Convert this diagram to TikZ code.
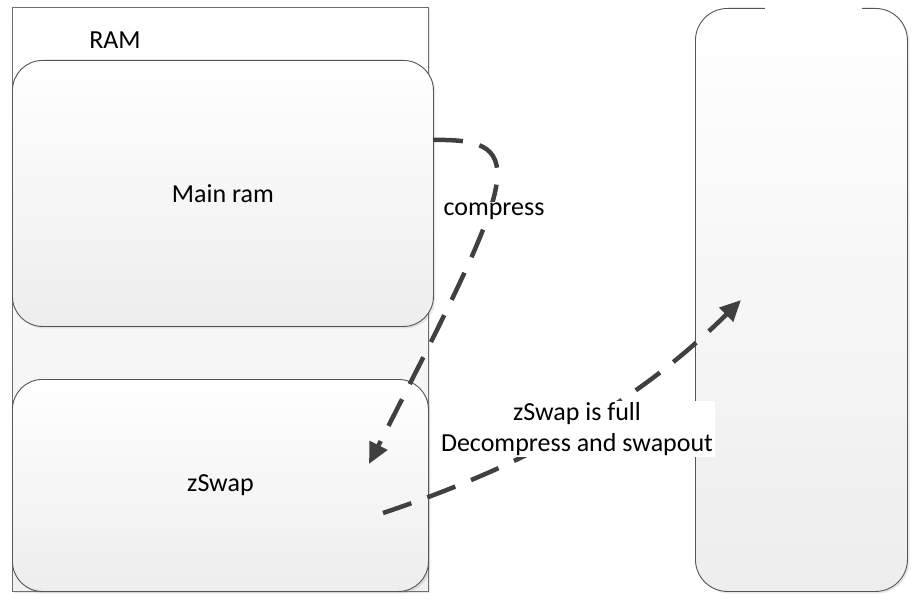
\documentclass[tikz,border=0pt]{standalone}
\usepackage{fontspec}
\setmainfont{Carlito}
\usetikzlibrary{arrows.meta,shadows}
\definecolor{edgec}{HTML}{555555}
\definecolor{arrowc}{HTML}{404040}
\begin{document}
\begin{tikzpicture}[x=1pt,y=-1pt,
  box/.style={draw=edgec, line width=0.9pt, rounded corners=30pt, top color=white, bottom color=black!7,
    drop shadow={shadow xshift=2pt,shadow yshift=-2pt,opacity=0.18}, anchor=north west, inner sep=0pt,
    font=\fontsize{26}{31}\selectfont},
  outerbox/.style={draw=edgec!85, line width=0.9pt, top color=white, bottom color=black!6,
    drop shadow={shadow xshift=2pt,shadow yshift=-2pt,opacity=0.18}, anchor=north west, inner sep=0pt},
  flow/.style={draw=arrowc, line width=4.5pt, dash pattern=on 30pt off 17pt,
    -{Triangle[length=21pt,width=19pt,sep=0pt]}},
  lbl/.style={font=\fontsize{26}{31}\selectfont, text=black, inner xsep=2pt, inner ysep=1pt, align=center},
]
\useasboundingbox (0,0) rectangle (921,599);
% RAM container
\node[outerbox, minimum width=416pt, minimum height=584pt] (ram) at (12,7) {};
\node[lbl] (ramlbl) at (115,40) {RAM};
% inner boxes
\node[box, minimum width=421pt, minimum height=266pt] (main) at (12,60) {Main ram};
\node[box, minimum width=416pt, minimum height=212pt] (zswap) at (12,379) {zSwap};
% right storage box
\node[box, minimum width=212pt, minimum height=583pt, rounded corners=32pt] (disk) at (695,8) {};
\fill[white] (765,3) rectangle (862,17);
% connector end points
\coordinate (c1s) at (433,140);
\coordinate (c1e) at (369,464);
\coordinate (c2s) at (383,513);
\coordinate (c2e) at (741,300);
% arrows
\draw[flow] (c1s) .. controls (535,138) and (515,178) .. (c1e);
\draw[flow] (c2s) .. controls (533,463) and (640,400) .. (c2e);
% labels
\node[lbl, fill=white] (cmp) at (494,211) {compress};
\node[lbl, fill=white] (full) at (577,429) {zSwap is full\\Decompress and swapout};
\end{tikzpicture}
\end{document}
